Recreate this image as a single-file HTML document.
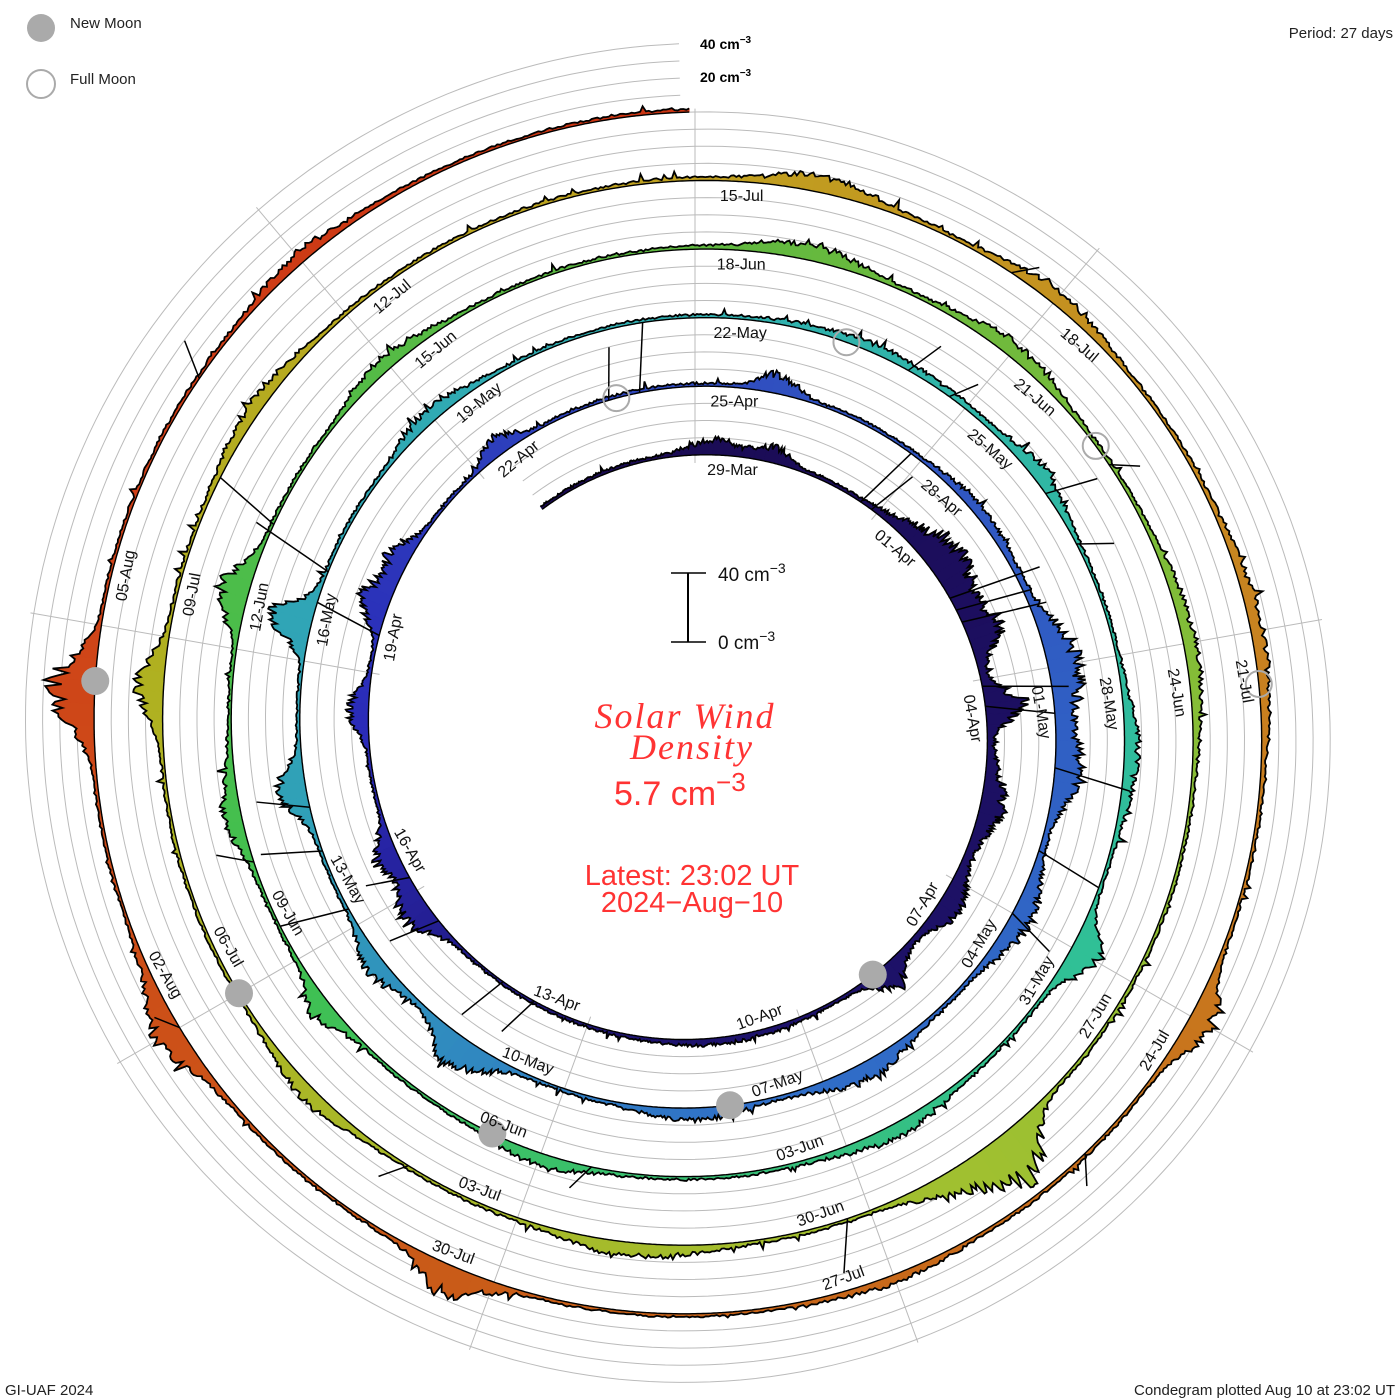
<!DOCTYPE html>
<html><head><meta charset="utf-8">
<style>
html,body{margin:0;padding:0;background:#fff;}
svg{display:block;}
.dl{font-family:"Liberation Sans",sans-serif;font-size:16px;fill:#111;}
.sm{font-family:"Liberation Sans",sans-serif;font-size:15px;fill:#222;}
</style></head>
<body>
<svg id="s" width="1400" height="1400" viewBox="0 0 1400 1400" xmlns="http://www.w3.org/2000/svg">
<g id="grid"></g>
<g id="data"></g>
<g id="moons"></g>
<g id="labels">
<text class="dl">29-Mar</text><text class="dl">01-Apr</text><text class="dl">04-Apr</text><text class="dl">07-Apr</text><text class="dl">10-Apr</text><text class="dl">13-Apr</text><text class="dl">16-Apr</text><text class="dl">19-Apr</text><text class="dl">22-Apr</text>
<text class="dl">25-Apr</text><text class="dl">28-Apr</text><text class="dl">01-May</text><text class="dl">04-May</text><text class="dl">07-May</text><text class="dl">10-May</text><text class="dl">13-May</text><text class="dl">16-May</text><text class="dl">19-May</text>
<text class="dl">22-May</text><text class="dl">25-May</text><text class="dl">28-May</text><text class="dl">31-May</text><text class="dl">03-Jun</text><text class="dl">06-Jun</text><text class="dl">09-Jun</text><text class="dl">12-Jun</text><text class="dl">15-Jun</text>
<text class="dl">18-Jun</text><text class="dl">21-Jun</text><text class="dl">24-Jun</text><text class="dl">27-Jun</text><text class="dl">30-Jun</text><text class="dl">03-Jul</text><text class="dl">06-Jul</text><text class="dl">09-Jul</text><text class="dl">12-Jul</text>
<text class="dl">15-Jul</text><text class="dl">18-Jul</text><text class="dl">21-Jul</text><text class="dl">24-Jul</text><text class="dl">27-Jul</text><text class="dl">30-Jul</text><text class="dl">02-Aug</text><text class="dl">05-Aug</text>
</g>
<circle cx="41" cy="28" r="14" fill="#aaa"/>
<text class="sm" x="70" y="28">New Moon</text>
<circle cx="41" cy="84" r="14" fill="none" stroke="#aaa" stroke-width="2"/>
<text class="sm" x="70" y="84">Full Moon</text>
<text class="sm" x="1393" y="38" text-anchor="end">Period: 27 days</text>
<text class="sm" x="5" y="1395">GI-UAF 2024</text>
<text class="sm" x="1395" y="1395" text-anchor="end">Condegram plotted Aug 10 at 23:02 UT</text>
<text x="700" y="49" font-family="Liberation Sans,sans-serif" font-size="14" font-weight="bold" fill="#000">40 cm<tspan dy="-6" font-size="10">−3</tspan></text>
<text x="700" y="82" font-family="Liberation Sans,sans-serif" font-size="14" font-weight="bold" fill="#000">20 cm<tspan dy="-6" font-size="10">−3</tspan></text>
<line x1="688" y1="573" x2="688" y2="642" stroke="#000" stroke-width="2"/>
<line x1="671" y1="573" x2="706" y2="573" stroke="#000" stroke-width="1.5"/>
<line x1="671" y1="642" x2="706" y2="642" stroke="#000" stroke-width="1.5"/>
<text x="718" y="581" font-family="Liberation Sans,sans-serif" font-size="19" fill="#111">40 cm<tspan dy="-8" font-size="14">−3</tspan></text>
<text x="718" y="649" font-family="Liberation Sans,sans-serif" font-size="19" fill="#111">0 cm<tspan dy="-8" font-size="14">−3</tspan></text>
<text x="685" y="728" text-anchor="middle" font-family="Liberation Serif,serif" font-style="italic" font-size="36" fill="#ff3333" letter-spacing="2">Solar Wind</text>
<text x="692" y="759" text-anchor="middle" font-family="Liberation Serif,serif" font-style="italic" font-size="36" fill="#ff3333" letter-spacing="2">Density</text>
<text x="614" y="805" font-family="Liberation Sans,sans-serif" font-size="34" fill="#ff3333">5.7 cm<tspan dy="-14" font-size="26">−3</tspan></text>
<text x="692" y="885" text-anchor="middle" font-family="Liberation Sans,sans-serif" font-size="29" fill="#ff3333">Latest: 23:02 UT</text>
<text x="692" y="912" text-anchor="middle" font-family="Liberation Sans,sans-serif" font-size="29" fill="#ff3333">2024−Aug−10</text>
</svg>
<script>
(function(){
var NS="http://www.w3.org/2000/svg";
var cx=695,cy=730,a=275,b=68.6,s=1.715;
var D0=-2.6,D1=134.96;
function th(d){return d/27*2*Math.PI;}
function rb(d){return a+b*d/27;}
function pt(r,d){var t=th(d);return [cx+r*Math.sin(t),cy-r*Math.cos(t)];}
function el(n,at,p){var e=document.createElementNS(NS,n);for(var k in at)e.setAttribute(k,at[k]);(p||document.getElementById('data')).appendChild(e);return e;}
var grid=document.getElementById('grid');
for(var k=1;k<=4;k++){
  var pts=[];
  for(var d=D0;d<=D1;d+=0.1){var p=pt(rb(d)+k*17.15,d);pts.push(p[0].toFixed(1)+","+p[1].toFixed(1));}
  el('polyline',{points:pts.join(' '),fill:'none',stroke:'#bbb','stroke-width':1},grid);
}
for(var i=0;i<9;i++){
  var d=i*3; var r0=rb(d)-8; var r1=rb(d+108)+72;
  var p0=pt(r0,d),p1=pt(r1,d);
  el('line',{x1:p0[0],y1:p0[1],x2:p1[0],y2:p1[1],stroke:'#bbb','stroke-width':1},grid);
}
var seed=12345;function rnd(){seed=(seed*1103515245+12345)%2147483648;return seed/2147483648;}
var bumps=[
[0.3,6,0.5],[1.2,8,0.3],[4.2,16,0.8],[5.3,14,0.4],[6.4,18,0.3],[7.8,10,0.6],[9.3,9,0.5],[10.6,12,0.3],[13,2,1],[17.8,14,0.4],[18.6,10,0.3],[20.5,10,0.3],[21.9,14,0.3],[22.5,10,0.3],[24.4,8,0.3],
[28,8,0.3],[31,4,0.8],[33,16,0.6],[34.2,12,0.5],[36,9,0.6],[38.5,8,0.6],[40.5,5,0.6],[43.2,16,0.4],[44.5,8,0.4],[46.6,14,0.3],[48.4,20,0.25],[51,6,0.5],
[56,3,1],[58,6,0.5],[61,6,0.6],[63,14,0.3],[65.5,6,0.6],[69,5,0.5],[71.5,9,0.3],[73.5,8,0.4],[75.5,14,0.3],[78,6,0.5],
[82,8,0.5],[84,6,0.6],[87,5,0.8],[91.7,25,0.3],[92.2,12,0.4],[95,6,0.6],[98,6,0.5],[101.6,12,0.3],[104,5,0.6],
[109,7,0.5],[111,6,0.5],[114,5,0.8],[117,12,0.3],[120,3,0.5],[123.3,14,0.3],[126,12,0.4],[128.5,22,0.3],[132,4,0.5]
];
var spikes=[[2.7,40],[2.9,30],[4.7,55],[4.9,45],[5.1,50],[6.1,50],[6.4,40],[15.8,25],[16.3,30],[17.5,30],[18.2,25],[21.5,40],[26.3,40],[25.9,30],[34.2,45],[35.2,40],[36,30],[45.2,40],[45.9,35],[46.4,30],[49,50],[56.3,22],[56.8,16],[58.2,30],[58.8,20],[68.5,15],[73,20],[76.2,40],[85.3,15],[93.2,30],[97,15],[118.3,15],[130.9,20],[126,10],[110.6,12]];
var stops=[[-3,[26,10,80]],[15,[30,20,112]],[20,[42,42,184]],[28,[48,80,192]],[40,[48,112,200]],[46,[48,160,184]],[54,[48,176,176]],[63,[48,192,150]],[72,[64,192,80]],[81,[96,184,64]],[92,[160,192,48]],[102,[176,176,32]],[108,[192,160,32]],[114,[200,130,32]],[122,[200,96,24]],[130,[208,64,24]],[136,[200,48,16]]];
function col(d){for(var i=0;i<stops.length-1;i++){if(d<=stops[i+1][0]){var f=(d-stops[i][0])/(stops[i+1][0]-stops[i][0]);var c=stops[i][1].map(function(v,j){return Math.round(v+(stops[i+1][1][j]-v)*f);});return 'rgb('+c.join(',')+')';}}return 'rgb(200,48,16)';}
var step=0.02,vals=[],days=[],sm=0;
for(var d=D0;d<=D1;d+=step){
  var v=1.3;
  for(var j=0;j<bumps.length;j++){var w=bumps[j][2];var q=(d-bumps[j][0])/w;if(Math.abs(q)<4)v+=bumps[j][1]*Math.exp(-q*q);}
  sm=sm*0.85+rnd()*0.15;
  var r=rnd();
  v*=(0.5+0.5*rnd()+sm*0.6);
  v+=rnd()*1.0+ (r>0.97?rnd()*4:0);
  days.push(d);vals.push(v);
}
var dg=document.getElementById('data');
var N=days.length,seg=8;
for(var i=0;i<N-1;i+=seg){
  var e=Math.min(i+seg,N-1);var P=[];
  for(var j=i;j<=e;j++){var p=pt(rb(days[j]),days[j]);P.push(p[0].toFixed(1)+","+p[1].toFixed(1));}
  for(var j=e;j>=i;j--){var p=pt(rb(days[j])+vals[j]*s,days[j]);P.push(p[0].toFixed(1)+","+p[1].toFixed(1));}
  el('polygon',{points:P.join(' '),fill:col(days[i]),stroke:col(days[i]),'stroke-width':0.6},dg);
}
var T=[],B=[];
for(var j=0;j<N;j++){var p=pt(rb(days[j])+vals[j]*s,days[j]);T.push(p[0].toFixed(1)+","+p[1].toFixed(1));var q=pt(rb(days[j]),days[j]);B.push(q[0].toFixed(1)+","+q[1].toFixed(1));}
el('polyline',{points:T.join(' '),fill:'none',stroke:'#000','stroke-width':1.8},dg);
el('polyline',{points:B.join(' '),fill:'none',stroke:'#000','stroke-width':1.4},dg);
for(var j=0;j<spikes.length;j++){var d=spikes[j][0];var p0=pt(rb(d),d),p1=pt(rb(d)+spikes[j][1]*s,d+0.15);
  el('line',{x1:p0[0],y1:p0[1],x2:p1[0],y2:p1[1],stroke:'#000','stroke-width':1.5},dg);}
var mg=document.getElementById('moons');
var nm=[10.8,40.1,69.5,99,128.6],fm=[26,55.6,85.1,114.4];
nm.forEach(function(d){var p=pt(rb(d),d);el('circle',{cx:p[0],cy:p[1],r:14,fill:'#aaa'},mg);});
fm.forEach(function(d){var p=pt(rb(d),d);el('circle',{cx:p[0],cy:p[1],r:13,fill:'none',stroke:'#aaa','stroke-width':2},mg);});
var L=document.getElementById('labels').getElementsByTagName('text');
for(var i=0;i<L.length;i++){
  var d=i*3;var ang=(d%27)/27*360;var p=pt(rb(d)-14,d+0.2);
  var t=L[i];t.setAttribute('x',0);t.setAttribute('y',0);t.setAttribute('dy','0.35em');
  if(ang>90&&ang<270){t.setAttribute('text-anchor','end');t.setAttribute('transform','translate('+p[0]+','+p[1]+') rotate('+(ang-180)+')');}
  else{t.setAttribute('text-anchor','start');t.setAttribute('transform','translate('+p[0]+','+p[1]+') rotate('+ang+')');}
}
})();
</script>
</body></html>
